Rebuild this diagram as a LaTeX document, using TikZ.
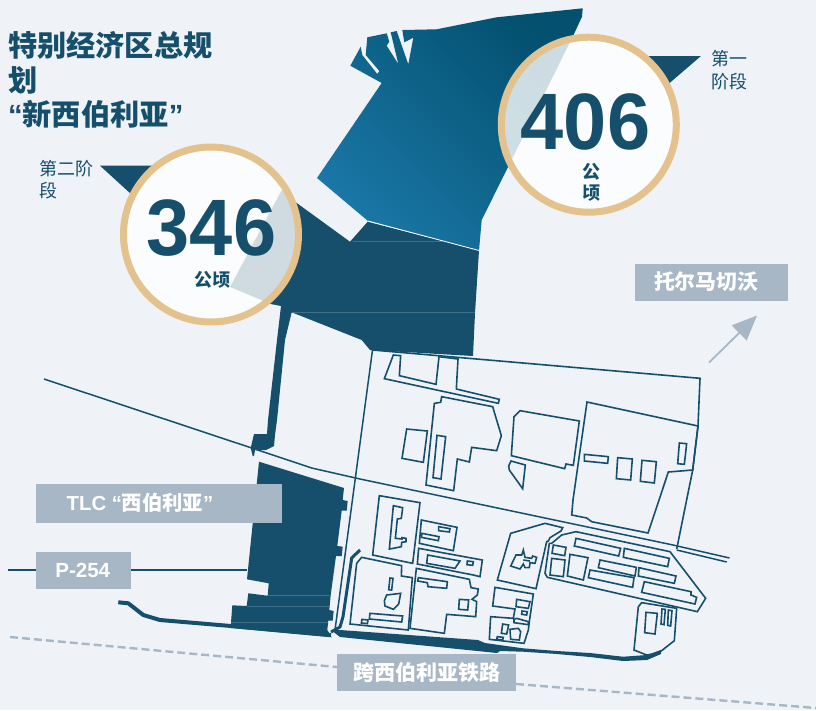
\documentclass[tikz,border=0pt]{standalone}
\usepackage{fontspec}
\setmainfont{Liberation Sans}
\newfontfamily\cjk{Noto Sans CJK SC}
\usetikzlibrary{arrows.meta}
\definecolor{bgc}{HTML}{EFF3F8}
\definecolor{dark}{HTML}{164F6B}
\definecolor{slate}{HTML}{A8B7C6}
\definecolor{gold}{HTML}{E3C28D}
\definecolor{blueL}{HTML}{1A77A6}
\definecolor{blueD}{HTML}{03506F}
\definecolor{seam}{HTML}{3F7088}
\tikzset{
  x=1pt,y=-1pt,
  plot/.style={draw=dark,line width=1.6pt,line join=miter},
  fine/.style={draw=dark,line width=1.5pt},
  seamline/.style={draw=seam,line width=.6pt},
  mass/.style={fill=dark},
  disc/.style={circle,draw=gold,line width=7pt,fill=white,fill opacity=.8,draw opacity=1,minimum size=175pt,inner sep=0pt},
  tag/.style={fill=slate,inner sep=0pt,text=white,font=\bfseries\fontsize{20.5}{24}\selectfont},
  txt/.style={text=dark,inner sep=0pt,anchor=base west},
  bignum/.style={text=dark,inner sep=0pt,xscale=.97,font=\bfseries\fontsize{80}{80}\selectfont},
  z3/.style={shift={(340,340)},xscale=1/3,yscale=1/3},
  z4/.style={shift={(340,480)},xscale=1/3,yscale=1/3},
  z5/.style={shift={(490,500)},xscale=1/3,yscale=1/3},
}
\begin{document}
\begin{tikzpicture}
\useasboundingbox (0,0) rectangle (816,710);
\fill[bgc] (0,0) rectangle (816,710);

% railway dashed
\draw[slate,line width=2.4pt,dash pattern=on 8pt off 4pt] (10,637) -- (337,667);
\draw[slate,line width=2.4pt,dash pattern=on 8pt off 4pt] (516,684) -- (816,708);

% stage 2 dark mass
\fill[mass] (281.7,190) -- (296.7,203) -- (350,241.7) -- (367.7,221.7) -- (479,250.5) -- (475,313) -- (473,356) -- (370,350) -- (361.7,340) -- (291.7,312.3) -- (285,340) -- (277,420) -- (275,435) -- (274,446) -- (266,450) -- (255,450) -- (254,456) -- (252.7,456) -- (250.7,448) -- (254,434) -- (267,434) -- (268,420) -- (277,340) -- (281,306) -- (270.7,304) -- (230,287) -- cycle;
\fill[mass] (100,165.7) -- (153,165.7) -- (131,194) -- cycle;
\fill[mass] (645,56) -- (701,56) -- (669,83.5) -- cycle;
\draw[seamline] (353,241.7) -- (477,241.7);
\draw[seamline] (292,312.3) -- (475,312.3);

% stage 1 blue
\shade[bottom color=blueL,top color=blueD,shading angle=-45]
 (350.3,65.7) -- (360.7,46.7) -- (362.3,55) -- (377.3,74) -- (379.3,71) -- (365.7,55) -- (367.3,37.3) -- (386.7,33.3) -- (389.3,41.7) -- (386.7,45.7) -- (398.3,64) -- (390.7,32.3) -- (396.7,31) -- (408.3,64.3) -- (413.3,37.7) -- (404.3,42.3) -- (402.3,30) -- (436.7,29.3) -- (496.7,17.3) -- (582.7,8.3) -- (582,16.7) -- (574,34) -- (508,167) -- (481.7,220) -- (479,250.5) -- (368,221) -- (317,178) -- (381.7,83) -- cycle;
\draw[white,line width=.8pt] (368,221) -- (479,250.5);

% terminal mass
\fill[mass] (259,461.7) -- (344,488) -- (342.7,500) -- (347.7,501) -- (346.7,510.7) -- (341.7,510.7) -- (337.3,546) -- (342.7,546.7) -- (341.7,556) -- (336,556) -- (330.7,595) -- (329.3,610) -- (333.7,611) -- (332.7,620.7) -- (328.3,620.7) -- (327.3,630) -- (331.7,637.3) -- (231,628) -- (231,622.7) -- (232.3,605.3) -- (246.7,606) -- (248.3,593.3) -- (267.7,595.7) -- (268.7,583.3) -- (247,579.3) -- cycle;
\draw[seamline] (267.7,595) -- (330.7,595);
\draw[seamline] (247,606) -- (329,606);
\draw[seamline] (231,622.7) -- (328,622.7);

% roads
\draw[dark,line width=4pt,line join=round] (118.3,602.3) -- (128.3,603.3) -- (143.3,615) -- (160,620) -- (231,626) -- (331,635);
\fill[mass] (331,630) -- (340,630) -- (478,640) -- (485,643) -- (523,648.3) -- (557,651) -- (590,653) -- (623,656.7) -- (647,655) -- (661,650) -- (661,654) -- (647,660) -- (623,661) -- (590,657) -- (557,654) -- (523,651.7) -- (500,651) -- (497,653) -- (340,637) -- cycle;
\draw[dark,line width=1.8pt] (8,570) -- (247,570);
\draw[dark,line width=3pt,line join=round] (360,550) -- (351.7,558) -- (343,616.7) -- (340,627) -- (331,632);
\draw[fine] (44,379) -- (251.7,448) -- (311.7,468) -- (360,479) -- (673,545) -- (729.5,558);
\draw[fine] (676.7,550) -- (726.7,562);
\draw[fine] (372.5,350) -- (335,630);
\draw[plot] (372.5,350) -- (700,378.3) -- (698,426) -- (692.7,470) -- (676.7,549);

% upper plots
\begin{scope}[z3]
\draw[plot] (160,45) -- (182,47) -- (178,107) -- (288,133) -- (297,50) -- (354,57) -- (349,147) -- (478,178) -- (475,190) -- (133,116) -- cycle;
\draw[plot] (283,190) -- (302,187) -- (305,170) -- (458,200) -- (484,287) -- (470,332) -- (395,322) -- (388,366) -- (352,357) -- (341,452) -- (258,435) -- cycle;
\draw[plot] (200,267) -- (262,273) -- (250,367) -- (186,355) -- cycle;
\draw[plot] (291,286) -- (317,290) -- (303,417) -- (279,413) -- cycle;
\draw[plot] (522,230) -- (540,212) -- (718,243) -- (700,376) -- (678,372) -- (674,386) -- (514,347) -- cycle;
\draw[plot] (513,363) -- (556,375) -- (548,446) -- (508,390) -- (506,378) -- cycle;
\draw[plot] (733,343) -- (805,350) -- (803,370) -- (733,363) -- cycle;
\draw[plot] (833,353) -- (877,357) -- (872,420) -- (829,416) -- cycle;
\draw[plot] (906,361) -- (949,365) -- (943,429) -- (901,424) -- cycle;
\draw[plot] (1018,309) -- (1040,311) -- (1033,373) -- (1013,371) -- cycle;
\end{scope}
\draw[plot] (587,402) -- (698,426) -- (692.7,470) -- (668.3,472) -- (655.7,510) -- (648,533) -- (591.7,521.7) -- (586.7,518) -- (571.7,515) -- (573,500) -- cycle;

% lower-left plots
\begin{scope}[z4]
\draw[plot] (118,47) -- (240,68) -- (218,250) -- (98,225) -- cycle;
\draw[plot] (160,77) -- (188,83) -- (184,115) -- (172,117) -- (166,175) -- (186,177) -- (186,173) -- (198,175) -- (198,185) -- (185,187) -- (184,200) -- (160,205) -- (148,207) -- cycle;
\draw[plot] (244,120) -- (351,142) -- (340,212) -- (238,190) -- cycle;
\draw[plot] (296,140) -- (330,146) -- (328,156) -- (296,152) -- cycle;
\draw[plot] (246,160) -- (297,170) -- (295,182) -- (244,172) -- cycle;
\draw[plot] (236,205) -- (427,240) -- (420,290) -- (400,285) -- (232,252) -- cycle;
\draw[plot] (263,225) -- (360,243) -- (345,265) -- (260,250) -- cycle;
\draw[plot] (382,243) -- (400,245) -- (398,256) -- (381,254) -- cycle;
\draw[plot] (65,232) -- (185,257) -- (184,288) -- (217,293) -- (205,450) -- (30,432) -- (50,250) -- cycle;
\draw[plot] (150,294) -- (159,295) -- (155,330) -- (146,329) -- cycle;
\draw[plot] (140,345) -- (182,340) -- (176,372) -- (160,388) -- (135,378) -- (133,362) -- cycle;
\draw[plot] (90,400) -- (188,408) -- (185,426) -- (88,417) -- cycle;
\draw[plot] (66,418) -- (84,420) -- (82,431) -- (64,429) -- cycle;
\draw[plot] (229,265) -- (388,298) -- (393,323) -- (415,327) -- (412,345) -- (396,358) -- (410,365) -- (407,410) -- (320,403) -- (313,460) -- (210,445) -- cycle;
\draw[plot] (235,293) -- (322,305) -- (320,325) -- (264,320) -- (262,308) -- (233,303) -- cycle;
\draw[plot] (358,358) -- (386,360) -- (383,390) -- (356,388) -- cycle;
\draw[plot] (465,322) -- (580,342) -- (568,425) -- (565,450) -- (552,490) -- (448,478) -- (452,410) -- (520,415) -- (525,387) -- (458,378) -- cycle;
\draw[plot] (530,358) -- (570,365) -- (565,385) -- (528,380) -- cycle;
\draw[plot] (546,393) -- (562,395) -- (560,405) -- (545,403) -- cycle;
\draw[plot] (522,418) -- (530,415) -- (565,425) -- (565,434) -- (522,428) -- cycle;
\draw[plot] (488,432) -- (506,435) -- (500,462) -- (484,460) -- cycle;
\draw[plot] (510,448) -- (535,445) -- (542,455) -- (538,480) -- (512,478) -- cycle;
\draw[plot] (472,470) -- (490,472) -- (488,480) -- (470,478) -- cycle;
\end{scope}

% lower-right plots
\begin{scope}[z5]
\draw[plot] (62,100) -- (165,70) -- (218,83) -- (213,93) -- (180,113) -- (175,123) -- (170,125) -- (138,266) -- (22,240) -- cycle;
\draw[plot] (78,165) -- (95,165) -- (100,150) -- (105,172) -- (125,175) -- (128,168) -- (140,172) -- (135,190) -- (120,188) -- (118,203) -- (105,203) -- (100,192) -- (90,207) -- (62,198) -- cycle;
\draw[plot] (100,180) -- (120,183);
\draw[plot] (185,130) -- (215,105) -- (258,95) -- (540,155) -- (647,295) -- (622,335) -- (172,232) -- (165,220) -- (178,130) -- cycle;
\draw[plot] (258,115) -- (392,145) -- (386,168) -- (253,138) -- cycle;
\draw[plot] (403,145) -- (538,175) -- (533,200) -- (400,172) -- cycle;
\draw[plot] (190,135) -- (228,142) -- (224,167) -- (186,160) -- cycle;
\draw[plot] (185,175) -- (225,180) -- (220,230) -- (180,225) -- cycle;
\draw[plot] (240,163) -- (294,173) -- (280,240) -- (232,228) -- cycle;
\draw[plot] (330,180) -- (439,202) -- (435,228) -- (325,203) -- cycle;
\draw[plot] (447,203) -- (558,228) -- (553,250) -- (445,228) -- cycle;
\draw[plot] (300,210) -- (432,233) -- (428,262) -- (295,233) -- cycle;
\draw[plot] (463,245) -- (603,275) -- (603,285) -- (620,292) -- (615,312) -- (455,277) -- cycle;
\draw[plot] (455,308) -- (560,325) -- (553,422) -- (515,452) -- (490,462) -- (470,465) -- (432,450) -- (445,320) -- cycle;
\draw[plot] (468,337) -- (502,340) -- (495,402) -- (464,398) -- cycle;
\draw[plot] (516,327) -- (526,328) -- (522,374) -- (513,372) -- cycle;
\draw[plot] (535,330) -- (546,332) -- (542,378) -- (533,376) -- cycle;
\end{scope}

% circles
\node[disc] (c2) at (211,234.5) {};
\node[disc] (c1) at (588.8,124.7) {};

% big numbers
\node[bignum] (n2) at (211.5,228) {346};
\node[bignum] (n1) at (585.5,122) {406};
\node[text=dark,inner sep=0pt,font=\cjk\bfseries\fontsize{18}{18}\selectfont] (u2) at (212,280) {公顷};
\node[text=dark,inner sep=0pt,align=center,font=\cjk\bfseries\fontsize{18}{21.5}\selectfont] (u1) at (591.7,182.5) {公\\顷};

% title
\node[txt,font=\bfseries\fontsize{29.2}{29}\selectfont] (t1) at (8,56.5) {\cjk 特别经济区总规};
\node[txt,font=\bfseries\fontsize{29.2}{29}\selectfont] (t2) at (8,91) {\cjk 划};
\node[txt,font=\bfseries\fontsize{29.2}{29}\selectfont] (t3) at (8,125.5) {“{\cjk 新西伯利亚}”};

% stage labels
\node[txt,font=\cjk\fontsize{18}{18}\selectfont] (s2a) at (39,175) {第二阶};
\node[txt,font=\cjk\fontsize{18}{18}\selectfont] (s2b) at (39,197.5) {段};
\node[txt,font=\cjk\fontsize{18}{18}\selectfont] (s1a) at (711.5,65) {第一};
\node[txt,font=\cjk\fontsize{18}{18}\selectfont] (s1b) at (711.5,88) {阶段};

% tags
\node[tag,minimum width=246pt,minimum height=38.7pt] (tlc) at (159,503.3) {};
\node[inner sep=0pt,text=white,font=\bfseries\fontsize{20.3}{24}\selectfont] (tlct) at (140,503) {TLC “{\cjk 西伯利亚}”};
\node[tag,minimum width=95pt,minimum height=36.7pt] (p) at (83.5,570.3) {\hspace*{-1.5pt}P-254};
\node[tag,minimum width=179pt,minimum height=37pt,font=\bfseries\fontsize{21}{24}\selectfont] (rail) at (426.5,672.5) {\cjk 跨西伯利亚铁路};
\node[tag,minimum width=153pt,minimum height=37pt] (tol) at (711.5,282.5) {};
\node[inner sep=0pt,text=white,font=\cjk\bfseries\fontsize{20.8}{24}\selectfont] (tolt) at (706,282) {托尔马切沃};

% arrow
\coordinate (a0) at (709,362.5);
\coordinate (a1) at (757,315.5);
\draw[slate,line width=1.8pt,-{Triangle[length=25pt,width=21pt]}] (a0) -- (a1);
\end{tikzpicture}
\end{document}
